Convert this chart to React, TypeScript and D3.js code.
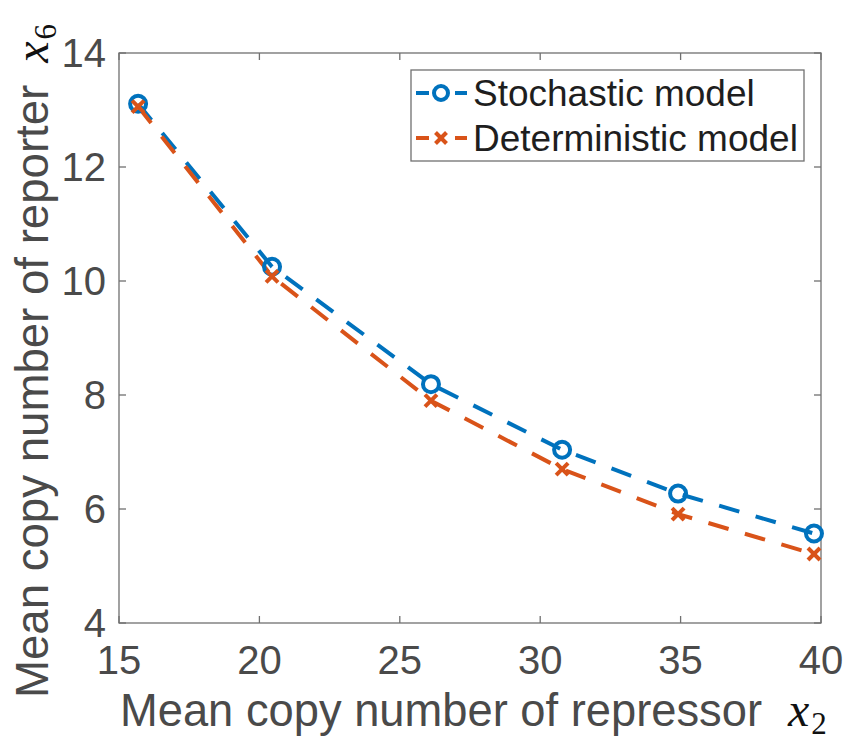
import React from "react";
import * as d3 from "d3";

const xValues = [15.68, 20.45, 26.11, 30.78, 34.91, 39.75];
const stochastic = [13.11, 10.25, 8.19, 7.04, 6.27, 5.57];
const deterministic = [13.06, 10.08, 7.9, 6.7, 5.91, 5.21];
const xTicks = [15, 20, 25, 30, 35, 40];
const yTicks = [4, 6, 8, 10, 12, 14];
const seriesNames = ["Stochastic model", "Deterministic model"];

const W = 846;
const H = 742;
const M = { left: 119, right: 821, top: 53, bottom: 623 };
const BLUE = "#0072BD";
const ORANGE = "#D95319";
const SANS = "'Liberation Sans', Arial, Helvetica, sans-serif";
const SERIF = "'Liberation Serif', 'Times New Roman', serif";
const TXT = "#4a4a4a";
const AX = "#707070";

function XMark({ x, y, s, color }: { x: number; y: number; s: number; color: string }) {
  return (
    <g stroke={color} strokeWidth={4} strokeLinecap="butt">
      <line x1={x - s} y1={y - s} x2={x + s} y2={y + s} />
      <line x1={x - s} y1={y + s} x2={x + s} y2={y - s} />
    </g>
  );
}

export default function App() {
  const x = d3.scaleLinear().domain([15, 40]).range([M.left, M.right]);
  const y = d3.scaleLinear().domain([4, 14]).range([M.bottom, M.top]);
  const line = d3
    .line<[number, number]>()
    .x((d) => x(d[0]))
    .y((d) => y(d[1]));
  const sPts = xValues.map((v, i) => [v, stochastic[i]] as [number, number]);
  const dPts = xValues.map((v, i) => [v, deterministic[i]] as [number, number]);
  const tick = 7;

  return (
    <svg
      width={W}
      height={H}
      style={{ position: "absolute", left: 0, top: 0, background: "#fff" }}
    >
      <rect x={0} y={0} width={W} height={H} fill="#fff" />
      <rect
        x={M.left}
        y={M.top}
        width={M.right - M.left}
        height={M.bottom - M.top}
        fill="none"
        stroke={AX}
        strokeWidth={1.3}
      />
      {xTicks.map((t) => (
        <g key={"xt" + t}>
          <line x1={x(t)} x2={x(t)} y1={M.bottom} y2={M.bottom - tick} stroke={AX} strokeWidth={1.3} />
          <line x1={x(t)} x2={x(t)} y1={M.top} y2={M.top + tick} stroke={AX} strokeWidth={1.3} />
          <text
            x={x(t)}
            y={674}
            textAnchor="middle"
            fontFamily={SANS}
            fontSize={40}
            fill={TXT}
          >
            {t}
          </text>
        </g>
      ))}
      {yTicks.map((t) => (
        <g key={"yt" + t}>
          <line x1={M.left} x2={M.left + tick} y1={y(t)} y2={y(t)} stroke={AX} strokeWidth={1.3} />
          <line x1={M.right} x2={M.right - tick} y1={y(t)} y2={y(t)} stroke={AX} strokeWidth={1.3} />
          <text
            x={106}
            y={y(t)}
            dy="0.36em"
            textAnchor="end"
            fontFamily={SANS}
            fontSize={40}
            fill={TXT}
          >
            {t}
          </text>
        </g>
      ))}

      <path d={line(sPts) || ""} fill="none" stroke={BLUE} strokeWidth={4} strokeDasharray="21 17" />
      <path d={line(dPts) || ""} fill="none" stroke={ORANGE} strokeWidth={4} strokeDasharray="21 17" />
      {sPts.map((p, i) => (
        <circle key={"c" + i} cx={x(p[0])} cy={y(p[1])} r={8} fill="none" stroke={BLUE} strokeWidth={4} />
      ))}
      {dPts.map((p, i) => (
        <XMark key={"x" + i} x={x(p[0])} y={y(p[1])} s={6} color={ORANGE} />
      ))}

      <text x={120} y={726} fontFamily={SANS} fontSize={45.3} fill={TXT}>
        {"Mean copy number of repressor"}
        <tspan dx={26} fontFamily={SERIF} fontStyle="italic" fill="#111" fontSize={48}>
          x
        </tspan>
        <tspan dx={2} dy={8} fontFamily={SERIF} fill="#111" fontSize={31}>
          2
        </tspan>
      </text>

      <g transform="translate(48,698) rotate(-90)">
        <text x={0} y={0} fontFamily={SANS} fontSize={45.6} fill={TXT}>
          {"Mean copy number of reporter"}
          <tspan dx={22} fontFamily={SERIF} fontStyle="italic" fill="#111" fontSize={48}>
            x
          </tspan>
          <tspan dx={2} dy={8} fontFamily={SERIF} fill="#111" fontSize={31}>
            6
          </tspan>
        </text>
      </g>

      <rect x={411} y={70} width={393} height={91} fill="#fff" stroke={AX} strokeWidth={1.3} />
      {seriesNames.map((name, i) => {
        const cy = 93 + i * 45;
        const color = i === 0 ? BLUE : ORANGE;
        return (
          <g key={name}>
            <line x1={416} x2={429} y1={cy} y2={cy} stroke={color} strokeWidth={4} />
            <line x1={455} x2={467} y1={cy} y2={cy} stroke={color} strokeWidth={4} />
            {i === 0 ? (
              <circle cx={441} cy={cy} r={7} fill="none" stroke={color} strokeWidth={4} />
            ) : (
              <XMark x={441} y={cy} s={5.5} color={color} />
            )}
            <text
              x={473}
              y={cy}
              dy="0.36em"
              fontFamily={SANS}
              fontSize={37}
              fill="#1e1e1e"
            >
              {name}
            </text>
          </g>
        );
      })}
    </svg>
  );
}
